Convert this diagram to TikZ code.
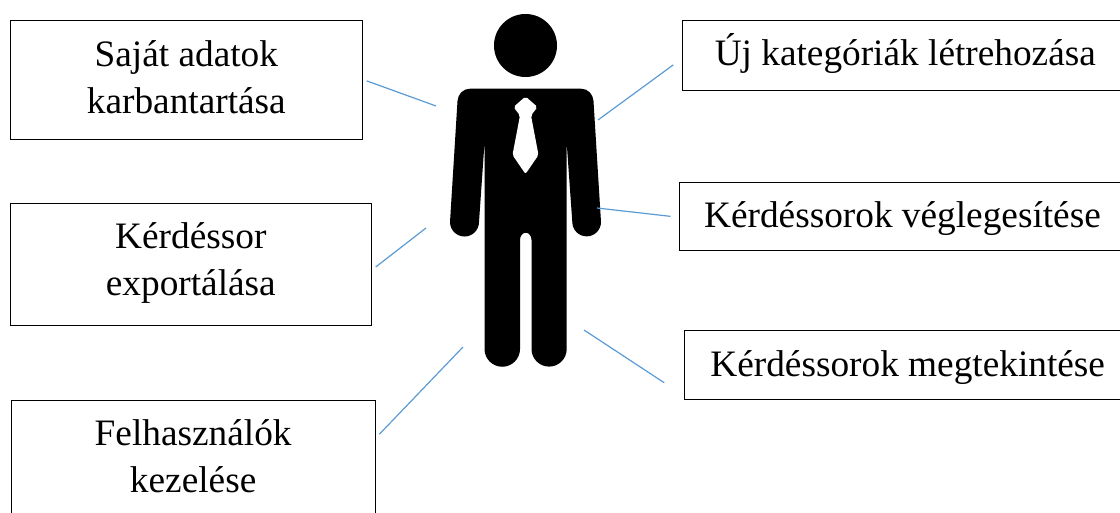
\documentclass[tikz,border=0pt]{standalone}
\usepackage{fontspec}
\setmainfont{Liberation Serif}
\definecolor{linkblue}{HTML}{5B9BD5}
\begin{document}
\begin{tikzpicture}[x=1pt, y=-1pt,
    rolebox/.style={draw=black, line width=1pt, align=center, inner sep=0pt, font=\fontsize{37.3}{46.5}\selectfont},
    drop/.style={text height=34pt+#1, text depth=34pt-#1},
    link/.style={linkblue, line width=1.2pt}]
    \useasboundingbox (0,0) rectangle (1120,512);
    \clip (0,0) rectangle (1120,512);

    % Draw left boxes
    \node[rolebox, drop=33.4pt, minimum width=352.7, minimum height=118.3] (adatok) at (186.35,79.85) {Saját adatok\\karbantartása};
    \node[rolebox, drop=31pt, minimum width=361.7, minimum height=122] (export) at (190.85,264) {Kérdéssor\\exportálása};
    \node[rolebox, drop=33pt, minimum width=364.3, minimum height=118] (felhasznalok) at (193.15,459.3) {Felhasználók\\kezelése};

    % Draw right boxes
    \node[rolebox, drop=10.6pt, minimum width=446, minimum height=69.3] (kategoriak) at (905.3,55.35) {Új kategóriák létrehozása};
    \node[rolebox, drop=10.9pt, minimum width=447, minimum height=68.7] (veglegesites) at (902.5,216.35) {Kérdéssorok véglegesítése};
    \node[rolebox, drop=11.5pt, minimum width=446, minimum height=69] (megtekintes) at (907.7,365.2) {Kérdéssorok megtekintése};

    % Draw person
    \fill[black] (525.5,45.5) circle (31.5pt);
    \fill[black] (470,88.7) -- (581,88.7) .. controls (588,88.7) and (593,94) .. (593.5,101)
        -- (601,222) arc[start angle=0, end angle=-180, radius=14.35pt]
        -- (566.7,143) -- (566.7,349) arc[start angle=0, end angle=-180, radius=17.6pt]
        -- (531.5,240) arc[start angle=0, end angle=180, x radius=5.75pt, y radius=7.3pt]
        -- (520,349) arc[start angle=0, end angle=-180, radius=17.75pt]
        -- (484.5,143) -- (479,222) arc[start angle=0, end angle=-180, radius=14.5pt]
        -- (457.5,101) .. controls (458,94) and (463,88.7) .. (470,88.7) -- cycle;

    % Draw tie
    \fill[white, rounded corners=2] (525.5,96.5) -- (537.5,107) -- (531,115.5) -- (538.5,155)
        -- (525.5,174) -- (512.5,155) -- (520,115.5) -- (513.5,107) -- cycle;

    % Draw connectors
    \coordinate (a) at (436,106);
    \coordinate (b) at (426,228);
    \coordinate (c) at (463,347);
    \coordinate (d) at (598,120);
    \coordinate (e) at (597,208);
    \coordinate (f) at (584,330);
    \draw[link] ([xshift=3.5,yshift=-1]adatok.east) -- (a);
    \draw[link] ([xshift=3.5,yshift=-3]export.east) -- (b);
    \draw[link] ([xshift=3.5,yshift=25]felhasznalok.east) -- (c);
    \draw[link] ([xshift=-8.5,yshift=-9.5]kategoriak.west) -- (d);
    \draw[link] ([xshift=-8]veglegesites.west) -- (e);
    \draw[link] ([xshift=-20,yshift=-17.5]megtekintes.west) -- (f);
\end{tikzpicture}
\end{document}
